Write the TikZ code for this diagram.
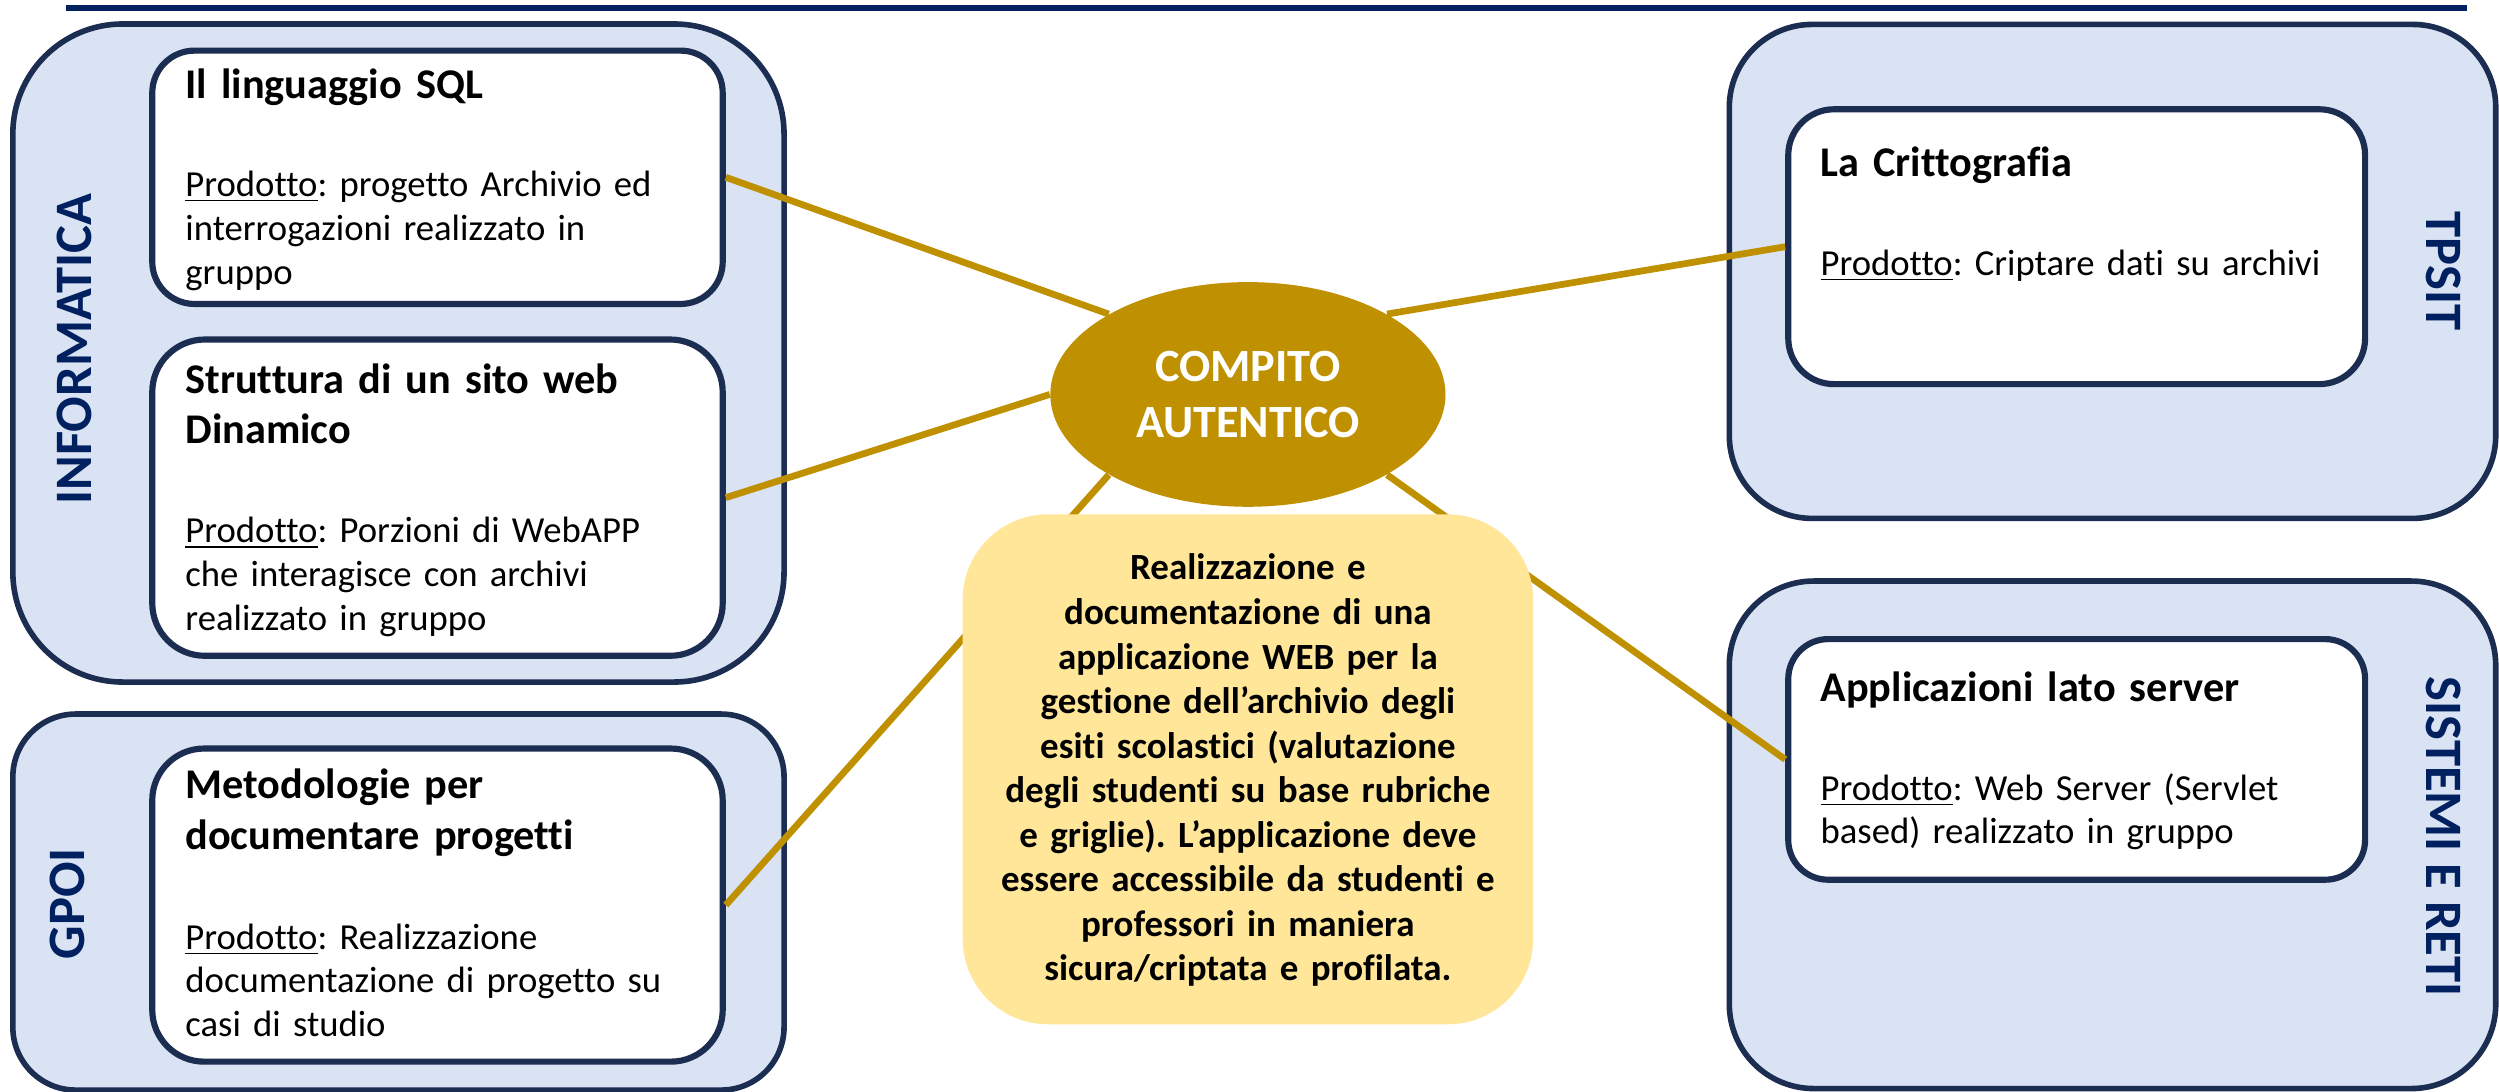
\documentclass[tikz,border=0pt]{standalone}
\usepackage{fontspec}
\setmainfont{Carlito}[Ligatures=NoCommon]
\usetikzlibrary{shapes.geometric}
\definecolor{navy}{HTML}{1C2D52}
\definecolor{lblue}{HTML}{DAE3F3}
\definecolor{gold}{HTML}{BF9000}
\definecolor{lyellow}{HTML}{FFE699}
\definecolor{dblue}{HTML}{002060}
\frenchspacing
\begin{document}
\begin{tikzpicture}[x=0.02cm,y=-0.02cm,
  outerbox/.style={draw=navy, line width=2pt, fill=lblue, rounded corners=#1, inner sep=0pt},
  innerbox/.style={draw=navy, line width=2.2pt, fill=white, rounded corners=#1, inner sep=0pt},
  link/.style={draw=gold, line width=2.4pt},
  topline/.style={draw=dblue, line width=2pt},
  ttl/.style={anchor=base west, inner sep=0pt, text width=7cm, align=left, font=\fontsize{15.1}{18.1}\selectfont\bfseries},
  body/.style={anchor=base west, inner sep=0pt, text width=7cm, align=left, font=\fontsize{13.1}{15.6}\selectfont},
  side/.style={inner sep=0pt, text=dblue, font=\fontsize{18.8}{20}\selectfont\bfseries},
  centre/.style={ellipse, fill=gold, inner sep=0pt, minimum width=4.96cm, minimum height=2.82cm, text=white, align=center, font=\fontsize{16.5}{20}\selectfont\bfseries},
  task/.style={fill=lyellow, rounded corners=1.07cm, inner sep=0pt, minimum width=7.16cm, minimum height=6.4cm},
  tasktext/.style={anchor=base, inner sep=0pt, text width=7cm, align=center, font=\fontsize{13.2}{15.9}\selectfont\bfseries},
]
\useasboundingbox (0,0) rectangle (1568,685);
\fill[white] (0,0) rectangle (1568,685);

% top rule
\coordinate (tl1) at (41.5,5);
\coordinate (tl2) at (1548,5);
\draw[topline] (tl1) -- (tl2);

% outer subject boxes
\node[outerbox=1.38cm, minimum width=9.68cm, minimum height=8.26cm] (infbox) at (250,221.5) {};
\node[outerbox=0.79cm, minimum width=9.68cm, minimum height=4.72cm] (gpoibox) at (250,566) {};
\node[outerbox=1.04cm, minimum width=9.62cm, minimum height=6.2cm] (tpsitbox) at (1325.5,170.3) {};
\node[outerbox=1.06cm, minimum width=9.62cm, minimum height=6.37cm] (sisbox) at (1325.5,523.8) {};

% side labels
\node[side, rotate=90] (inflab) at (47,219) {INFORMATICA};
\node[side, rotate=90] (gpoilab) at (42,567) {GPOI};
\node[side, rotate=-90] (tpsitlab) at (1533,170) {TPSIT};
\node[side, rotate=-90] (sislab) at (1533,525) {SISTEMI E RETI};

% inner topic boxes
\node[innerbox=0.53cm, minimum width=7.16cm, minimum height=3.18cm] (sql) at (274.5,111.25) {};
\node[innerbox=0.66cm, minimum width=7.16cm, minimum height=3.97cm] (strut) at (274.5,312.25) {};
\node[innerbox=0.65cm, minimum width=7.16cm, minimum height=3.93cm] (metod) at (274.5,567.9) {};
\node[innerbox=0.575cm, minimum width=7.24cm, minimum height=3.45cm] (critt) at (1303,154.8) {};
\node[innerbox=0.5cm, minimum width=7.24cm, minimum height=3.02cm] (appl) at (1303,476.5) {};

% central ellipse
\node[centre] (comp) at (783,247.5) {COMPITO\\AUTENTICO};

% connectors
\draw[link] (sql.east) -- (comp.150);
\draw[link] (strut.east) -- (comp.180);
\draw[link] (metod.east) -- (comp.210);
\draw[link] (critt.west) -- (comp.30);
\draw[link] (appl.west) -- (comp.330);

% task box
\node[task] (taskbox) at (783,482.7) {};
\node[tasktext] (tasktxt) at (783,363.9) {Realizzazione e\\
documentazione di una\\
applicazione WEB per la\\
gestione dell’archivio degli\\
esiti scolastici (valutazione\\
degli studenti su base rubriche\\
e griglie). L’applicazione deve\\
essere accessibile da studenti e\\
professori in maniera\\
sicura/criptata e profilata.};

% texts inside topic boxes
\node[ttl] (sqlt) at (116,61.7) {Il linguaggio SQL};
\node[body] (sqlb) at (116,123.4) {\underline{Prodotto}: progetto Archivio ed\\interrogazioni realizzato in\\gruppo};

\node[ttl] (strutt) at (116,246.7) {Struttura di un sito web\\Dinamico};
\node[body] (strutb) at (116,340.6) {\underline{Prodotto}: Porzioni di WebAPP\\che interagisce con archivi\\realizzato in gruppo};

\node[ttl] (metodt) at (116,501) {Metodologie per\\documentare progetti};
\node[body] (metodb) at (116,595.5) {\underline{Prodotto}: Realizzazione\\documentazione di progetto su\\casi di studio};

\node[ttl] (crittt) at (1142,111) {La Crittografia};
\node[body] (crittb) at (1142,172.6) {\underline{Prodotto}: Criptare dati su archivi};

\node[ttl] (applt) at (1142,440) {Applicazioni lato server};
\node[body] (applb) at (1142,502) {\underline{Prodotto}: Web Server (Servlet\\based) realizzato in gruppo};
\end{tikzpicture}
\end{document}
